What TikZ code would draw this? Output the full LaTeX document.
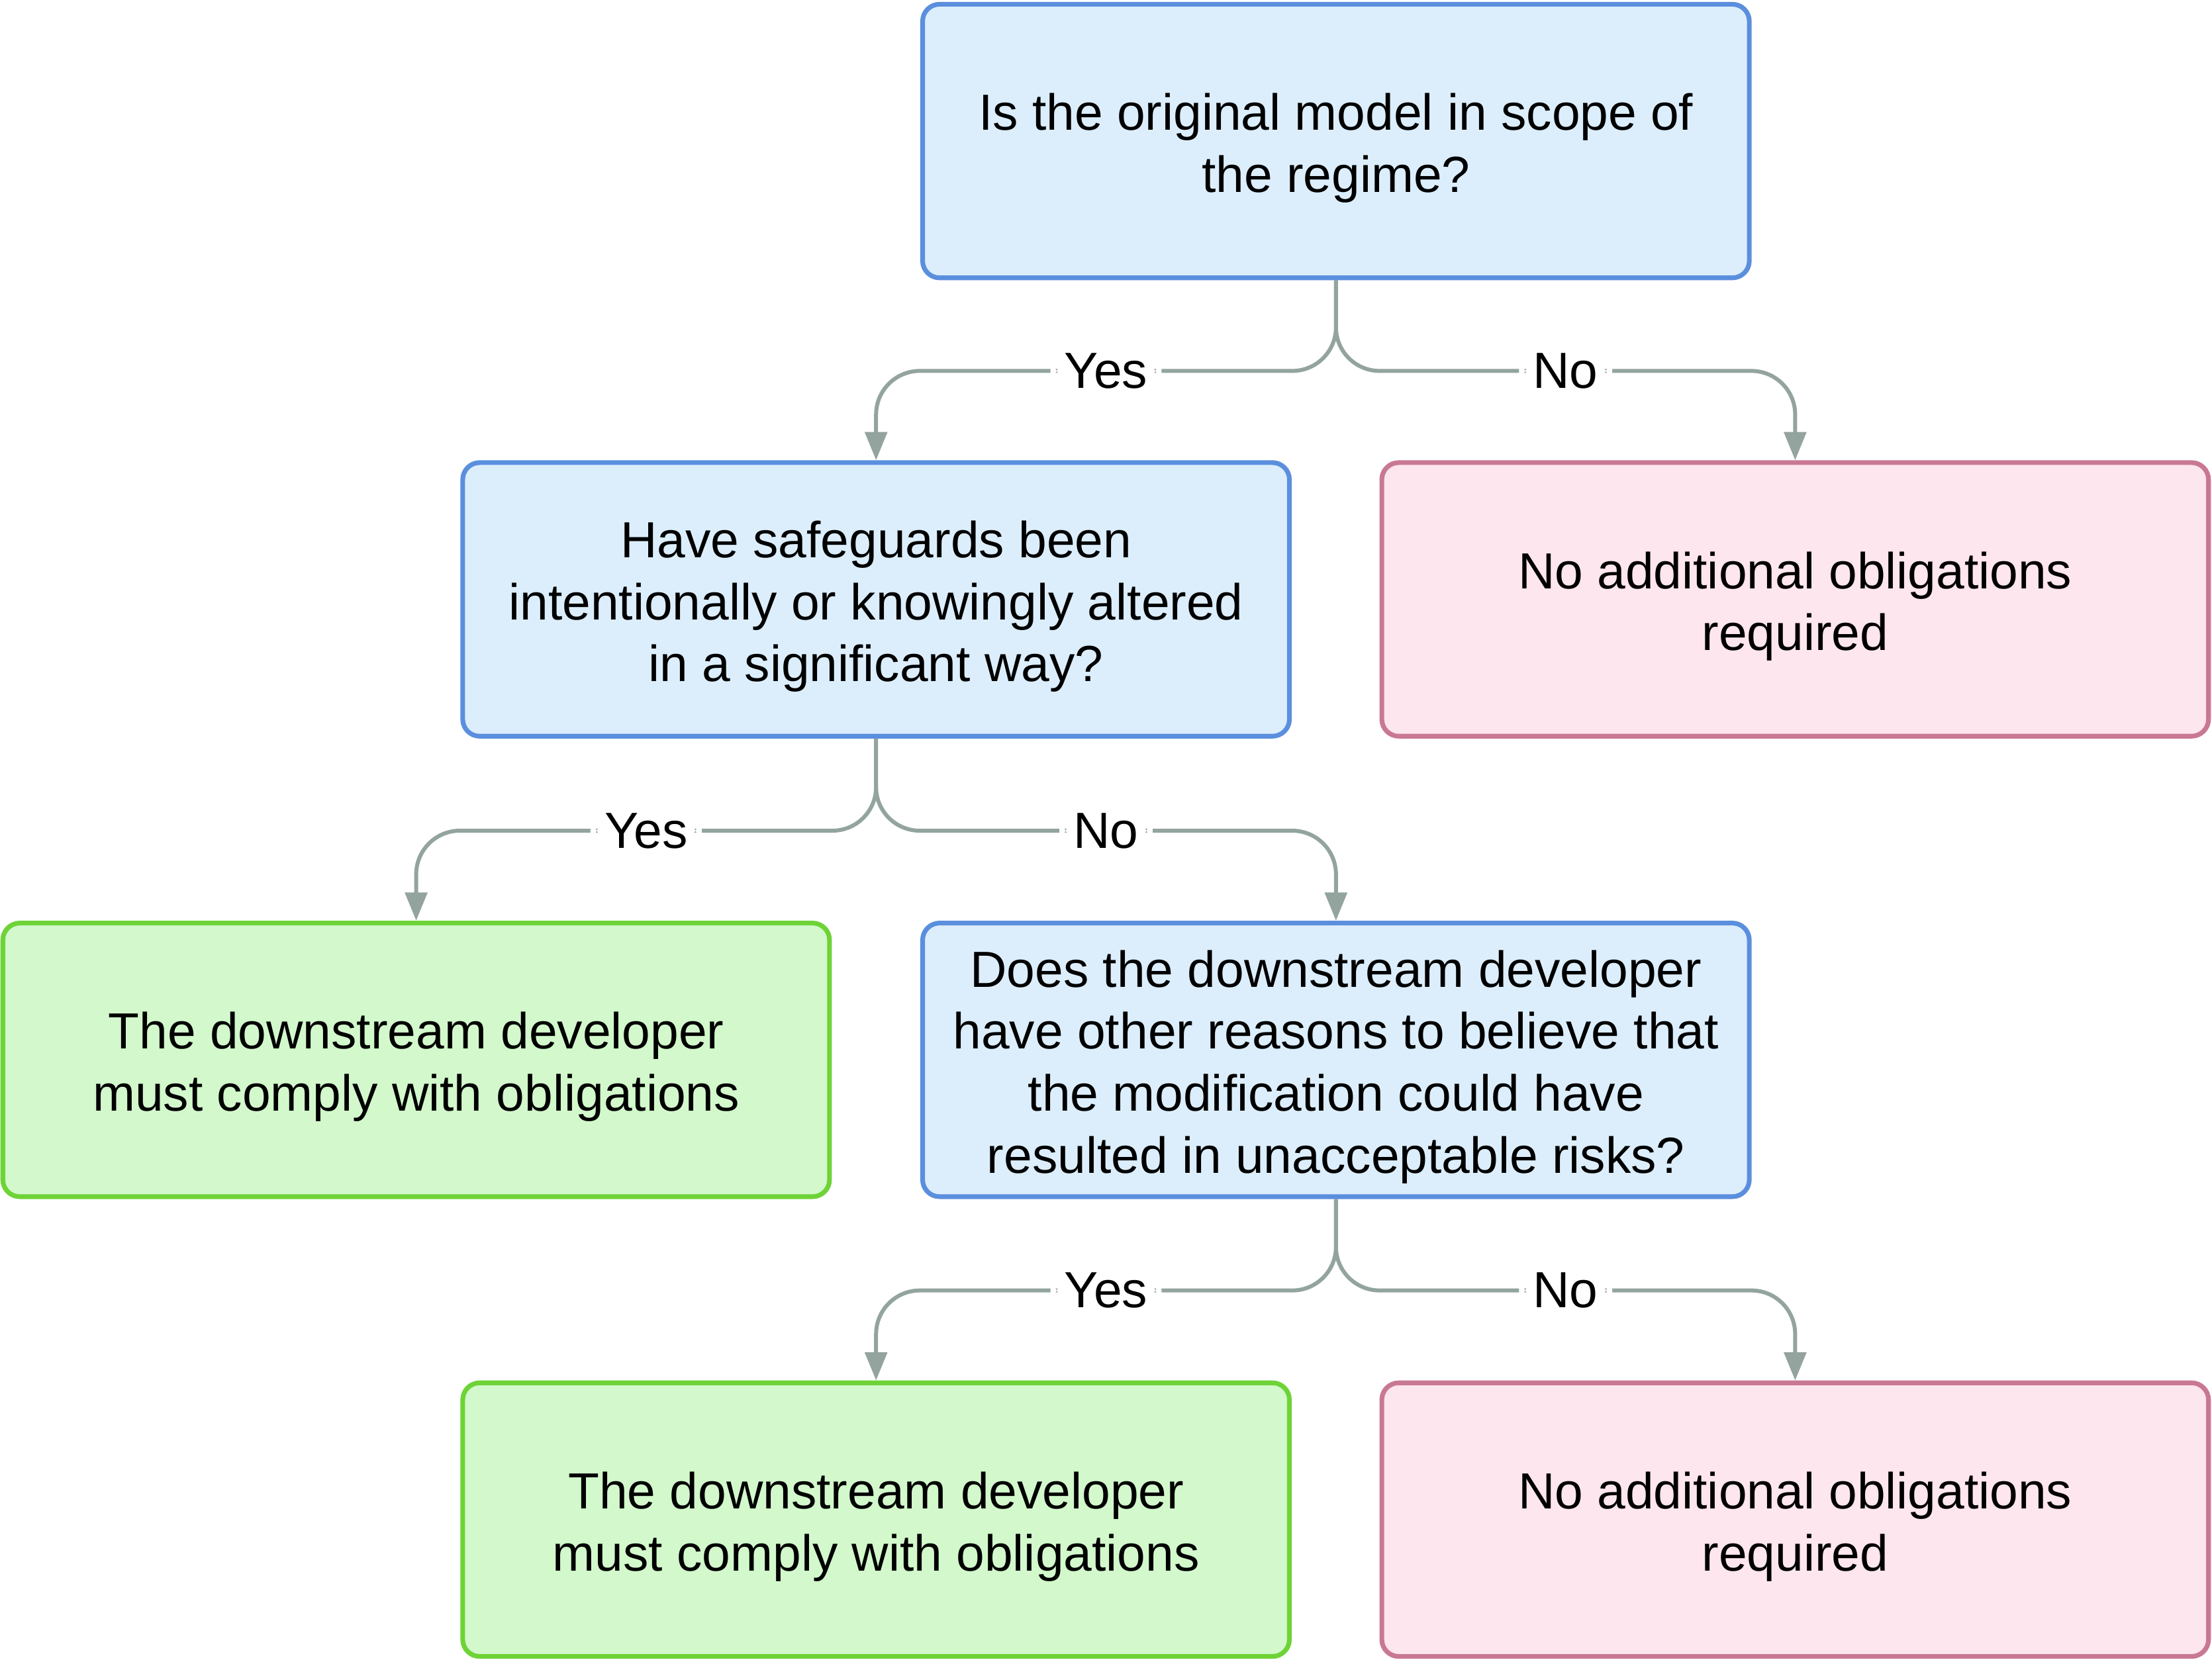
\documentclass[tikz,border=0pt]{standalone}
\usepackage{fontspec}
\setmainfont{Liberation Sans}
\usetikzlibrary{arrows.meta}
\definecolor{qline}{HTML}{5B8FDE}
\definecolor{qfill}{HTML}{DCEEFC}
\definecolor{gline}{HTML}{6ED337}
\definecolor{gfill}{HTML}{D2F8CC}
\definecolor{rline}{HTML}{C97893}
\definecolor{rfill}{HTML}{FDE6EE}
\definecolor{connector}{HTML}{93A49F}
\newcommand{\firstline}{\rule{0pt}{1em}}
\tikzstyle{box}=[rectangle,rounded corners=.24cm,minimum width=11.72cm,minimum height=3.88cm,align=center,line width=1.9pt,font=\fontsize{20.5}{25}\selectfont]
\tikzstyle{question}=[box,draw=qline,fill=qfill]
\tikzstyle{comply}=[box,draw=gline,fill=gfill]
\tikzstyle{noneed}=[box,draw=rline,fill=rfill]
\tikzstyle{branch}=[draw=connector,line width=1.6pt,rounded corners=.62cm,-{Triangle[length=.4cm,width=.31cm]}]
\tikzstyle{answer}=[fill=white,inner xsep=.2cm,inner ysep=.05cm,font=\fontsize{20.5}{24}\selectfont]

\begin{document}
\begin{tikzpicture}

\useasboundingbox (0,0) rectangle (31.36,-23.54);

%boxes
\node[question] (scope) at (18.94,-2.0) {\firstline Is the original model in scope of\\the regime?};
\node[question] (altered) at (12.42,-8.5) {\firstline Have safeguards been\\intentionally or knowingly altered\\in a significant way?};
\node[noneed] (none1) at (25.45,-8.5) {\firstline No additional obligations\\required};
\node[comply] (comply1) at (5.9,-15.03) {\firstline The downstream developer\\must comply with obligations};
\node[question] (reasons) at (18.94,-15.03) {\firstline Does the downstream developer\\have other reasons to believe that\\the modification could have\\resulted in unacceptable risks?};
\node[comply] (comply2) at (12.42,-21.55) {\firstline The downstream developer\\must comply with obligations};
\node[noneed] (none2) at (25.45,-21.55) {\firstline No additional obligations\\required};

%split points
\coordinate (s1) at (18.94,-5.26);
\coordinate (s2) at (12.42,-11.78);
\coordinate (s3) at (18.94,-18.3);

%branches
\draw[branch] (scope.south) -- (s1) -| node[answer,pos=.25] {Yes} (altered.north);
\draw[branch] (scope.south) -- (s1) -| node[answer,pos=.25] {No} (none1.north);
\draw[branch] (altered.south) -- (s2) -| node[answer,pos=.25] {Yes} (comply1.north);
\draw[branch] (altered.south) -- (s2) -| node[answer,pos=.25] {No} (reasons.north);
\draw[branch] (reasons.south) -- (s3) -| node[answer,pos=.25] {Yes} (comply2.north);
\draw[branch] (reasons.south) -- (s3) -| node[answer,pos=.25] {No} (none2.north);

\end{tikzpicture}
\end{document}
